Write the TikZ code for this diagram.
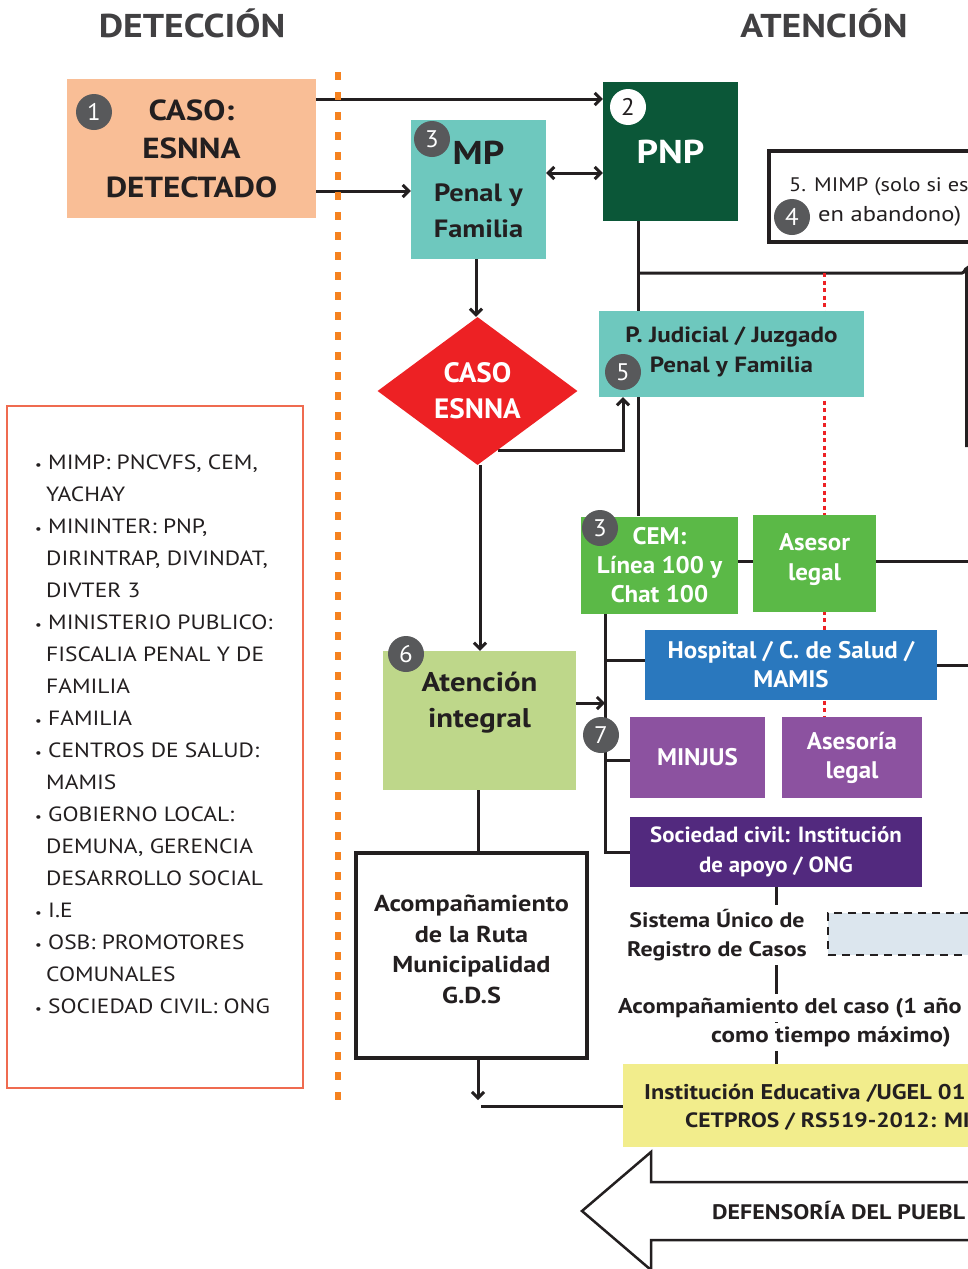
\documentclass[tikz,border=0pt]{standalone}
\usepackage{fontspec}
\setmainfont{PT Sans}[FakeStretch=1.14]
\newfontfamily\whitefam{PT Sans}[FakeStretch=1.04]
\usetikzlibrary{arrows.meta,shapes.geometric,backgrounds}
\definecolor{ink}{HTML}{231F20}
\definecolor{hdrgray}{HTML}{414042}
\definecolor{salmon}{HTML}{F9BE96}
\definecolor{pnpgreen}{HTML}{0B5738}
\definecolor{teal}{HTML}{6EC8BE}
\definecolor{esred}{HTML}{ED2124}
\definecolor{cemgreen}{HTML}{5BB947}
\definecolor{hospblue}{HTML}{2A78BE}
\definecolor{lilac}{HTML}{8C52A0}
\definecolor{deeppurple}{HTML}{52297E}
\definecolor{lightgreen}{HTML}{BED78A}
\definecolor{paleyellow}{HTML}{F2ED8C}
\definecolor{paleblue}{HTML}{DCE6EE}
\definecolor{badgegray}{HTML}{58595B}
\definecolor{dotorange}{HTML}{F58220}
\definecolor{listred}{HTML}{EF6B50}
\newcommand\fsz[2]{\fontsize{#1}{#2}\selectfont}
\tikzset{
  conn/.style={line width=3pt, draw=ink},
  arr/.style={conn, -{Straight Barb[length=6pt,width=12pt]}},
  dbl/.style={conn, {Straight Barb[length=6pt,width=12pt]}-{Straight Barb[length=6pt,width=12pt]}},
  box/.style={inner sep=0pt, align=center, text=white, font=\whitefam\bfseries\fsz{24}{29}},
  dbox/.style={inner sep=0pt, align=center, text=ink},
  lbl/.style={inner sep=0pt, align=center},
  badge/.style={circle, fill=badgegray, text=white, minimum size=36pt, inner sep=0pt, font=\whitefam\fsz{24}{24}},
  badgew/.style={badge, fill=white, text=ink},
  hdr/.style={inner sep=0pt, text=hdrgray, font=\bfseries\fsz{33}{33}},
  plain/.style={inner sep=0pt, text=ink, font=\fsz{21}{29}},
  sbold/.style={inner sep=0pt, text=ink, font=\bfseries\fsz{21}{29}},
  reddot/.style={draw=esred, line width=3pt, dash pattern=on 4pt off 3.5pt},
  orangedot/.style={draw=dotorange, line width=6pt, dash pattern=on 8pt off 12pt}
}
\begin{document}
\begin{tikzpicture}[x=1pt,y=-1pt]
\useasboundingbox (0,0) rectangle (968,1269);
\clip (0,0) rectangle (968,1269);
% helper coordinates
\coordinate (y99) at (0,99);
\coordinate (y173) at (0,173);
\coordinate (y191) at (0,191);
\coordinate (y273) at (0,273);
\coordinate (y561) at (0,561);
\coordinate (y660) at (0,660);
\coordinate (y703) at (0,703);
\coordinate (y760) at (0,760);
\coordinate (y1100) at (0,1100);
\coordinate (y1106) at (0,1106);
\coordinate (x476) at (476,0);
\coordinate (x478) at (478,0);
\coordinate (x480) at (480,0);
\coordinate (x481) at (481,0);
\coordinate (x605) at (605,0);
\coordinate (x623) at (623,0);
\coordinate (x638) at (638,0);
\coordinate (x776) at (776,0);
\coordinate (x824) at (824,0);
\coordinate (xedge) at (972,0);
\coordinate (d1) at (498,450);
\coordinate (rdown) at (966.5,447);

% headers
\node[hdr] (hdet) at (192,23) {DETECCIÓN};
\node[hdr] (hate) at (824,23) {ATENCIÓN};

% orange separator
\draw[orangedot] (338,72) -- (338,1110);

% boxes
\node[dbox, fill=salmon, minimum width=249pt, minimum height=139pt, font=\bfseries\fsz{29}{38.5}] (caso) at (191.5,148.5) {CASO:\\ESNNA\\DETECTADO};
\node[box, fill=pnpgreen, minimum width=135pt, minimum height=139pt, font=\bfseries\fsz{33}{33}] (pnp) at (670.5,151.5) {PNP};
\node[dbox, fill=teal, minimum width=135pt, minimum height=139pt, font=\bfseries\fsz{25}{36.5}] (mp) at (478.5,189.5) {{\fsz{33}{35}MP}\\Penal y\\Familia};
\node[diamond, aspect=1.35, fill=esred, minimum width=200pt, minimum height=148pt, inner sep=0pt, align=center, text=white, font=\whitefam\bfseries\fsz{28}{36}] (dia) at (477.5,391) {CASO\\ESNNA};
\node[draw=ink, line width=3.5pt, fill=white, minimum width=260pt, minimum height=91pt, inner sep=0pt] (mimp) at (899,196.5) {};
\node[plain, font=\fsz{19.6}{29}, anchor=west] (mimpa) at (789,187) {5. MIMP (solo si es};
\node[plain, font=\fsz{21.5}{29}, anchor=west] (mimpb) at (818,216) {en abandono)};
\node[dbox, fill=teal, minimum width=265pt, minimum height=86pt,
  label={[lbl, text=ink, font=\bfseries\fsz{22}{30}, yshift=2.5pt]center:P. Judicial / Juzgado\\Penal y Familia}] (pj) at (731.5,354) {};
\node[box, fill=cemgreen, minimum width=157pt, minimum height=97pt] (cem) at (659.5,565) {CEM:\\Línea 100 y\\Chat 100};
\node[box, fill=cemgreen, minimum width=123pt, minimum height=97pt,
  label={[lbl, text=white, font=\whitefam\bfseries\fsz{24}{30}, yshift=4pt]center:Asesor\\legal}] (asesor) at (814.5,563.5) {};
\node[box, fill=hospblue, minimum width=292pt, minimum height=70pt] (hosp) at (791,665) {Hospital / C. de Salud /\\MAMIS};
\node[box, fill=lilac, minimum width=135pt, minimum height=81pt] (minjus) at (697.5,757.5) {MINJUS};
\node[box, fill=lilac, minimum width=140pt, minimum height=81pt] (asesoria) at (852,757.5) {Asesoría\\legal};
\node[box, fill=deeppurple, minimum width=292pt, minimum height=70pt, font=\whitefam\bfseries\fsz{22}{30}] (soc) at (776,852) {Sociedad civil: Institución\\de apoyo / ONG};
\node[dbox, fill=lightgreen, minimum width=193pt, minimum height=139pt,
  label={[lbl, text=ink, font=\bfseries\fsz{27}{36}, yshift=17.5pt]center:Atención\\integral}] (ai) at (479.5,720.5) {};
\node[dbox, draw=ink, line width=3.5pt, fill=white, minimum width=231pt, minimum height=205pt,
  label={[lbl, text=ink, font=\bfseries\fsz{23}{30.5}, yshift=6pt]center:Acompañamiento\\de la Ruta\\Municipalidad\\G.D.S}] (acomp) at (471.5,955.5) {};
\node[sbold, fill=white, inner sep=4pt, align=center] (sur) at (717,935) {Sistema Único de\\Registro de Casos};
\node[draw=ink, line width=2.5pt, dash pattern=on 8pt off 6pt, fill=paleblue, minimum width=182pt, minimum height=42pt, inner sep=0pt] (sbox) at (919,934) {};
\node[sbold, font=\bfseries\fsz{21.3}{29}, fill=white, inner sep=4pt, anchor=west] (acasoa) at (614,1008) {Acompañamiento del caso (1 año};
\node[sbold, font=\bfseries\fsz{22}{29}, fill=white, inner sep=4pt, anchor=west] (acasob) at (707,1037) {como tiempo máximo)};
\node[fill=paleyellow, minimum width=387pt, minimum height=83pt, inner sep=0pt] (yellow) at (816.5,1105.5) {};
\node[sbold, font=\bfseries\fsz{21.3}{30}, anchor=west] (ya) at (644,1093) {Institución Educativa /UGEL 01};
\node[sbold, font=\bfseries\fsz{20.7}{30}, anchor=west] (yb) at (685,1122) {CETPROS / RS519-2012: MI};

% left list
\node[draw=listred, line width=1.2pt, fill=white, minimum width=296pt, minimum height=682pt, inner sep=0pt] (lbox) at (155,747) {};
\node[plain, font=\fsz{20.6}{32}, align=left, anchor=north west] (list) at (35,455) {%
\makebox[13pt][l]{\fsz{13}{13}•}MIMP: PNCVFS, CEM,\\
\hspace*{11pt}YACHAY\\
\makebox[13pt][l]{\fsz{13}{13}•}MININTER: PNP,\\
\hspace*{11pt}DIRINTRAP, DIVINDAT,\\
\hspace*{11pt}DIVTER 3\\
\makebox[13pt][l]{\fsz{13}{13}•}MINISTERIO PUBLICO:\\
\hspace*{11pt}FISCALIA PENAL Y DE\\
\hspace*{11pt}FAMILIA\\
\makebox[13pt][l]{\fsz{13}{13}•}FAMILIA\\
\makebox[13pt][l]{\fsz{13}{13}•}CENTROS DE SALUD:\\
\hspace*{11pt}MAMIS\\
\makebox[13pt][l]{\fsz{13}{13}•}GOBIERNO LOCAL:\\
\hspace*{11pt}DEMUNA, GERENCIA\\
\hspace*{11pt}DESARROLLO SOCIAL\\
\makebox[13pt][l]{\fsz{13}{13}•}I.E\\
\makebox[13pt][l]{\fsz{13}{13}•}OSB: PROMOTORES\\
\hspace*{11pt}COMUNALES\\
\makebox[13pt][l]{\fsz{13}{13}•}SOCIEDAD CIVIL: ONG};

% big arrow
\draw[draw=ink, line width=2.5pt, fill=white, line join=miter] (651,1152) -- (582,1211) -- (651,1270) -- (651,1240) -- (1000,1240) -- (1000,1182) -- (651,1182) -- cycle;
\node[sbold, font=\bfseries\fsz{21}{24}, anchor=west] (defp) at (712,1210) {DEFENSORÍA DEL PUEBL};

% badges
\node[badge] (b1) at (94,112) {1};
\node[badgew] (b2) at (628,107) {2};
\node[badge] (b3) at (432,139) {3};
\node[badge] (b4) at (792,217) {4};
\node[badge] (b5) at (623,372) {5};
\node[badge] (b3b) at (600,528) {3};
\node[badge] (b6) at (406,654) {6};
\node[badge] (b7) at (601,735) {7};

% connectors
\begin{scope}[on background layer]
\draw[arr] (caso.east |- y99) -- (pnp.west |- y99);
\draw[arr] (caso.east |- y191) -- (mp.west |- y191);
\draw[dbl] (mp.east |- y173) -- (pnp.west |- y173);
\draw[arr] (mp.south -| x476) -- (dia.north -| x476);
\draw[arr] (d1) -| (x623 |- pj.south);
\draw[arr] (dia.south -| x480) -- (ai.north -| x480);
\draw[conn] (pnp.south -| x638) -- (cem.north -| x638);
\draw[conn] (x638 |- y273) -- (962,273) .. controls (964.5,273) and (965,268.5) .. (966.5,268.5) -- (rdown);
\draw[reddot] (x824 |- y273) -- (asesoria.north -| x824);
\draw[conn] (cem.east |- y561) -- (asesor.west |- y561);
\draw[conn] (asesor.east |- y561) -- (xedge |- y561);
\draw[conn] (cem.south -| x605) -- (x605 |- soc.west) -- (soc.west);
\draw[conn] (x605 |- y660) -- (hosp.west |- y660);
\draw[conn] (x605 |- y760) -- (minjus.west |- y760);
\draw[conn] (hosp.east) -- (hosp.east -| xedge);
\draw[arr] (ai.east |- y703) -- (x605 |- y703);
\draw[conn] (ai.south -| x478) -- (acomp.north -| x478);
\draw[conn] (soc.south -| x776) -- (yellow.north -| x776);
\draw[arr] (acomp.south -| x478) -- (x478 |- y1100);
\draw[conn] (yellow.west |- y1106) -- (x481 |- y1106);
\end{scope}
\end{tikzpicture}
\end{document}
